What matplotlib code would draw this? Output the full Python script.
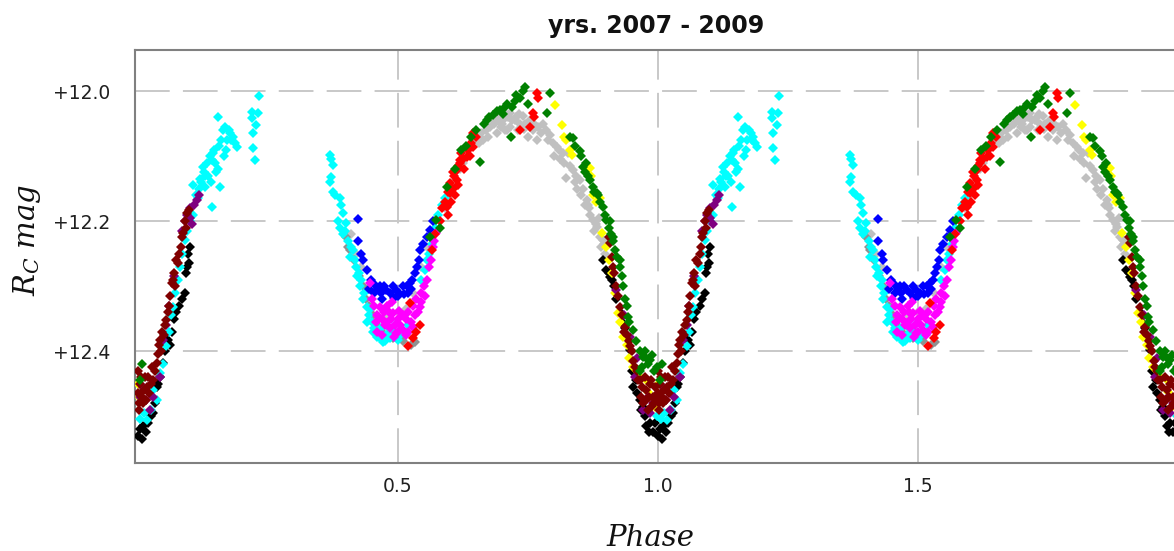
import matplotlib
matplotlib.use('Agg')
import matplotlib.pyplot as plt
import numpy as np

plt.rcParams['lines.scale_dashes'] = False
plt.rcParams['mathtext.fontset'] = 'custom'
plt.rcParams['mathtext.it'] = 'DejaVu Serif:italic'
plt.rcParams['mathtext.rm'] = 'DejaVu Serif'

# ---------------- data (phase in [0,1), Rc magnitude) ----------------
cyan_ph = [0.998, 0.005, 0.017, 0.025, 0.036, 0.042, 0.048, 0.055, 0.060, 0.067, 0.072, 0.081, 0.085, 0.090,
           0.095, 0.100, 0.106, 0.106, 0.112, 0.118, 0.125, 0.129, 0.135, 0.138, 0.142, 0.142, 0.146, 0.150,
           0.154, 0.154, 0.158, 0.160, 0.163, 0.167, 0.170, 0.175, 0.178, 0.183, 0.186, 0.190, 0.130, 0.120,
           0.115, 0.133, 0.148, 0.165, 0.172, 0.219, 0.219, 0.231, 0.228, 0.221, 0.221, 0.225, 0.233,
           0.369, 0.372, 0.375, 0.372, 0.370, 0.375, 0.380, 0.388, 0.390, 0.395, 0.385, 0.388, 0.401, 0.395,
           0.405, 0.410, 0.414, 0.418, 0.420, 0.425, 0.430, 0.428, 0.435, 0.440, 0.445, 0.450, 0.455, 0.459,
           0.465, 0.471, 0.478, 0.485, 0.490, 0.500, 0.495, 0.510, 0.520, 0.545, 0.555, 0.565, 0.572, 0.578,
           0.585, 0.590, 0.440, 0.452, 0.468, 0.398, 0.408, 0.422, 0.432, 0.447, 0.462, 0.475, 0.482, 0.505,
           0.012, 0.030, 0.064, 0.078, 0.140, 0.156, 0.180, 0.552, 0.560, 0.992, 0.122, 0.127, 0.144]
cyan_mag = [12.500, 12.505, 12.506, 12.490, 12.475, 12.434, 12.420, 12.393, 12.370, 12.332, 12.310, 12.270, 12.250, 12.229,
            12.215, 12.200, 12.190, 12.145, 12.160, 12.150, 12.117, 12.148, 12.130, 12.100, 12.106, 12.178, 12.090, 12.125,
            12.040, 12.120, 12.148, 12.075, 12.060, 12.055, 12.090, 12.060, 12.065, 12.070, 12.080, 12.086, 12.130, 12.135,
            12.165, 12.110, 12.110, 12.100, 12.075, 12.032, 12.042, 12.034, 12.052, 12.065, 12.088, 12.106, 12.008,
            12.098, 12.105, 12.114, 12.132, 12.140, 12.155, 12.160, 12.165, 12.175, 12.188, 12.200, 12.210, 12.203, 12.220,
            12.230, 12.240, 12.245, 12.260, 12.270, 12.280, 12.290, 12.300, 12.310, 12.332, 12.345, 12.355, 12.365, 12.378,
            12.380, 12.386, 12.375, 12.380, 12.370, 12.383, 12.360, 12.370, 12.360, 12.290, 12.260, 12.235, 12.210, 12.190,
            12.175, 12.165, 12.355, 12.370, 12.365, 12.215, 12.255, 12.285, 12.320, 12.335, 12.372, 12.385, 12.365, 12.375,
            12.495, 12.460, 12.345, 12.290, 12.140, 12.085, 12.075, 12.275, 12.250, 12.480, 12.140, 12.125, 12.095]

purple_ph = [0.920, 0.935, 0.946, 0.960, 0.971, 0.980, 0.990, 0.005, 0.010, 0.023, 0.030, 0.042, 0.048, 0.055,
             0.085, 0.090, 0.094, 0.100, 0.108, 0.113, 0.118, 0.100, 0.105, 0.070, 0.060, 0.955, 0.985, 0.015]
purple_mag = [12.306, 12.345, 12.378, 12.410, 12.490, 12.470, 12.480, 12.470, 12.455, 12.490, 12.470, 12.440, 12.383, 12.360,
              12.215, 12.200, 12.190, 12.180, 12.175, 12.168, 12.160, 12.195, 12.205, 12.285, 12.330, 12.440, 12.495, 12.475]

maroon_ph = [0.905, 0.908, 0.913, 0.916, 0.920, 0.923, 0.927, 0.930, 0.937, 0.940, 0.946, 0.950, 0.956, 0.960,
             0.965, 0.970, 0.975, 0.978, 0.982, 0.985, 0.990, 0.993, 0.995, 0.000, 0.004, 0.008, 0.012, 0.017,
             0.020, 0.025, 0.029, 0.033, 0.036, 0.040, 0.042, 0.046, 0.052, 0.055, 0.058, 0.062, 0.065, 0.067,
             0.070, 0.074, 0.077, 0.080, 0.084, 0.087, 0.090, 0.094, 0.098, 0.000, 0.003, 0.010, 0.968, 0.987,
             0.015, 0.006, 0.044, 0.972, 0.980, 0.988, 0.997, 0.002, 0.014, 0.022, 0.038, 0.050, 0.060, 0.072,
             0.082, 0.092, 0.935, 0.944, 0.953, 0.911, 0.962, 0.977, 0.027]
maroon_mag = [12.225, 12.234, 12.270, 12.280, 12.300, 12.315, 12.332, 12.345, 12.363, 12.375, 12.393, 12.400, 12.424, 12.430,
              12.445, 12.455, 12.440, 12.460, 12.470, 12.450, 12.470, 12.480, 12.455, 12.465, 12.450, 12.470, 12.460, 12.455,
              12.440, 12.450, 12.445, 12.430, 12.418, 12.390, 12.383, 12.370, 12.360, 12.352, 12.340, 12.316, 12.295, 12.290,
              12.280, 12.260, 12.265, 12.250, 12.224, 12.219, 12.200, 12.188, 12.183, 12.430, 12.490, 12.480, 12.470, 12.445,
              12.475, 12.440, 12.400, 12.480, 12.490, 12.485, 12.475, 12.480, 12.440, 12.465, 12.405, 12.375, 12.330, 12.300,
              12.240, 12.210, 12.370, 12.385, 12.415, 12.255, 12.445, 12.475, 12.425]

black_ph = [0.894, 0.900, 0.905, 0.908, 0.915, 0.920, 0.927, 0.933, 0.940, 0.946, 0.950, 0.952, 0.960, 0.965,
            0.971, 0.975, 0.978, 0.985, 0.990, 0.995, 0.004, 0.000, 0.010, 0.015, 0.020, 0.029, 0.032, 0.036,
            0.042, 0.048, 0.053, 0.058, 0.065, 0.074, 0.080, 0.085, 0.090, 0.092, 0.094, 0.096, 0.100, 0.062,
            0.070, 0.025, 0.912, 0.937, 0.957, 0.968, 0.982, 0.008, 0.039, 0.098]
black_mag = [12.260, 12.275, 12.280, 12.286, 12.300, 12.320, 12.340, 12.357, 12.380, 12.398, 12.430, 12.455, 12.465, 12.475,
             12.486, 12.500, 12.516, 12.510, 12.525, 12.510, 12.520, 12.530, 12.515, 12.525, 12.510, 12.496, 12.480, 12.455,
             12.440, 12.418, 12.400, 12.383, 12.370, 12.340, 12.330, 12.320, 12.310, 12.280, 12.270, 12.250, 12.240, 12.390,
             12.350, 12.500, 12.290, 12.365, 12.445, 12.490, 12.525, 12.535, 12.450, 12.265]

gray_ph = [0.405, 0.408, 0.415, 0.425, 0.433, 0.438, 0.445, 0.460, 0.470, 0.490, 0.510, 0.525, 0.533, 0.520,
           0.400, 0.452, 0.480]
gray_mag = [12.240, 12.245, 12.260, 12.285, 12.300, 12.320, 12.330, 12.360, 12.370, 12.380, 12.385, 12.390, 12.386, 12.370,
            12.225, 12.345, 12.375]

silver_ph = [0.410, 0.420, 0.430, 0.446, 0.450, 0.460, 0.480, 0.500, 0.515, 0.530, 0.545, 0.555, 0.565,
             0.580, 0.590, 0.600, 0.605, 0.613, 0.620, 0.630, 0.635, 0.644, 0.650, 0.660, 0.670, 0.677, 0.685,
             0.690, 0.695, 0.702, 0.708, 0.715, 0.720, 0.728, 0.735, 0.740, 0.745, 0.754, 0.760, 0.767, 0.770,
             0.779, 0.785, 0.792, 0.798, 0.805, 0.810, 0.817, 0.820, 0.824, 0.830, 0.837, 0.843, 0.850, 0.855,
             0.863, 0.868, 0.875, 0.880, 0.882, 0.888, 0.890, 0.894, 0.899, 0.710, 0.730, 0.750, 0.664, 0.690,
             0.716, 0.700, 0.725, 0.640, 0.655, 0.800, 0.845, 0.870, 0.860, 0.625, 0.646, 0.673, 0.682, 0.698,
             0.712, 0.733, 0.743, 0.757, 0.775, 0.788, 0.812, 0.827, 0.840, 0.852, 0.866, 0.878, 0.886, 0.897,
             0.762, 0.705]
silver_mag = [12.220, 12.250, 12.270, 12.352, 12.330, 12.350, 12.345, 12.340, 12.335, 12.310, 12.270, 12.240, 12.220,
              12.200, 12.180, 12.160, 12.140, 12.122, 12.120, 12.100, 12.090, 12.075, 12.070, 12.065, 12.060, 12.055, 12.050,
              12.045, 12.040, 12.045, 12.035, 12.034, 12.045, 12.040, 12.050, 12.038, 12.050, 12.045, 12.060, 12.075, 12.055,
              12.050, 12.060, 12.068, 12.080, 12.086, 12.090, 12.096, 12.110, 12.134, 12.115, 12.122, 12.130, 12.137, 12.150,
              12.168, 12.180, 12.198, 12.205, 12.209, 12.224, 12.240, 12.229, 12.250, 12.060, 12.060, 12.070, 12.075, 12.065,
              12.055, 12.050, 12.045, 12.085, 12.080, 12.100, 12.150, 12.190, 12.175, 12.110, 12.065, 12.070, 12.045, 12.055,
              12.040, 12.035, 12.058, 12.050, 12.065, 12.075, 12.105, 12.095, 12.140, 12.160, 12.175, 12.215, 12.195, 12.235,
              12.050, 12.060]

blue_ph = [0.423, 0.423, 0.430, 0.433, 0.440, 0.448, 0.456, 0.462, 0.468, 0.473, 0.478, 0.485, 0.490, 0.497,
           0.503, 0.510, 0.517, 0.523, 0.528, 0.536, 0.540, 0.542, 0.548, 0.555, 0.562, 0.568, 0.455, 0.470,
           0.500, 0.520, 0.532, 0.445, 0.465, 0.493, 0.512, 0.526]
blue_mag = [12.197, 12.230, 12.250, 12.260, 12.275, 12.290, 12.298, 12.305, 12.310, 12.300, 12.306, 12.310, 12.300, 12.306,
            12.310, 12.300, 12.300, 12.295, 12.290, 12.270, 12.260, 12.245, 12.235, 12.225, 12.214, 12.200, 12.310, 12.320,
            12.315, 12.310, 12.280, 12.305, 12.300, 12.318, 12.312, 12.305]

magenta_ph = [0.446, 0.450, 0.455, 0.460, 0.465, 0.470, 0.475, 0.478, 0.482, 0.487, 0.490, 0.495, 0.497, 0.500,
              0.505, 0.510, 0.515, 0.520, 0.525, 0.529, 0.533, 0.538, 0.542, 0.545, 0.550, 0.555, 0.560, 0.563,
              0.567, 0.570, 0.574, 0.460, 0.470, 0.485, 0.500, 0.510, 0.530, 0.480, 0.520, 0.545, 0.457, 0.492,
              0.503, 0.515, 0.535, 0.552, 0.473, 0.488]
magenta_mag = [12.295, 12.320, 12.330, 12.345, 12.332, 12.350, 12.360, 12.357, 12.340, 12.350, 12.342, 12.360, 12.372, 12.350,
               12.360, 12.368, 12.350, 12.370, 12.355, 12.363, 12.345, 12.340, 12.332, 12.310, 12.300, 12.290, 12.270, 12.260,
               12.240, 12.230, 12.219, 12.370, 12.375, 12.365, 12.370, 12.345, 12.330, 12.330, 12.340, 12.325, 12.355, 12.378,
               12.338, 12.375, 12.320, 12.315, 12.340, 12.325]

red_ph = [0.519, 0.523, 0.542, 0.535, 0.530, 0.565, 0.572, 0.580, 0.585, 0.590, 0.594, 0.597, 0.600, 0.600,
          0.605, 0.608, 0.613, 0.613, 0.616, 0.619, 0.619, 0.625, 0.632, 0.635, 0.640, 0.644, 0.644, 0.650,
          0.610, 0.596, 0.605, 0.628, 0.622, 0.735, 0.754, 0.760, 0.762, 0.767, 0.770, 0.602, 0.615, 0.638]
red_mag = [12.393, 12.326, 12.360, 12.370, 12.380, 12.245, 12.220, 12.200, 12.180, 12.170, 12.178, 12.155, 12.142, 12.157,
           12.150, 12.130, 12.122, 12.137, 12.115, 12.106, 12.111, 12.105, 12.101, 12.090, 12.080, 12.086, 12.065, 12.070,
           12.160, 12.190, 12.125, 12.120, 12.095, 12.060, 12.055, 12.034, 12.040, 12.003, 12.010, 12.170, 12.145, 12.100]

green_ph = [0.562, 0.574, 0.580, 0.594, 0.610, 0.622, 0.630, 0.640, 0.651, 0.658, 0.665, 0.672, 0.683, 0.690,
            0.696, 0.702, 0.710, 0.718, 0.720, 0.728, 0.735, 0.744, 0.750, 0.786, 0.792, 0.830, 0.837, 0.840,
            0.850, 0.853, 0.856, 0.860, 0.865, 0.869, 0.875, 0.878, 0.882, 0.888, 0.894, 0.898, 0.901, 0.905,
            0.910, 0.913, 0.913, 0.918, 0.922, 0.927, 0.927, 0.930, 0.933, 0.937, 0.942, 0.945, 0.952, 0.958,
            0.965, 0.971, 0.975, 0.980, 0.985, 0.988, 0.992, 0.998, 0.004, 0.965, 0.970, 0.007, 0.740, 0.676,
            0.706, 0.725, 0.862, 0.884, 0.907, 0.940, 0.978]
green_mag = [12.224, 12.198, 12.210, 12.147, 12.120, 12.090, 12.085, 12.070, 12.060, 12.109, 12.050, 12.045, 12.037, 12.030,
             12.029, 12.035, 12.020, 12.070, 12.025, 12.006, 12.010, 11.994, 12.020, 12.034, 12.003, 12.070, 12.072, 12.085,
             12.093, 12.100, 12.117, 12.125, 12.130, 12.137, 12.147, 12.155, 12.157, 12.170, 12.178, 12.190, 12.198, 12.210,
             12.220, 12.224, 12.230, 12.245, 12.255, 12.260, 12.270, 12.285, 12.300, 12.320, 12.347, 12.355, 12.368, 12.385,
             12.400, 12.409, 12.400, 12.420, 12.414, 12.406, 12.430, 12.424, 12.445, 12.430, 12.425, 12.420, 12.000, 12.040,
             12.025, 12.015, 12.110, 12.160, 12.200, 12.330, 12.410]

yellow_ph = [0.802, 0.815, 0.820, 0.824, 0.830, 0.834, 0.869, 0.872, 0.875, 0.880, 0.888, 0.892, 0.900, 0.905,
             0.911, 0.918, 0.923, 0.928, 0.933, 0.940, 0.945, 0.952, 0.960, 0.965, 0.978, 0.981, 0.990, 0.994,
             0.000, 0.003]
yellow_mag = [12.022, 12.052, 12.070, 12.075, 12.090, 12.098, 12.118, 12.130, 12.160, 12.170, 12.165, 12.218, 12.240, 12.260,
              12.280, 12.310, 12.342, 12.355, 12.378, 12.390, 12.410, 12.424, 12.430, 12.440, 12.445, 12.463, 12.475, 12.486,
              12.450, 12.470]

x_ticks = [0.5, 1.0, 1.5]
x_ticklabels = ['0.5', '1.0', '1.5']
y_ticks = [12.0, 12.2, 12.4]
y_ticklabels = ['+12.0', '+12.2', '+12.4']

series = [
    (silver_ph, silver_mag, '#c0c0c0'),
    (gray_ph, gray_mag, '#909090'),
    (black_ph, black_mag, '#000000'),
    (cyan_ph, cyan_mag, '#00ffff'),
    (blue_ph, blue_mag, '#0000ff'),
    (magenta_ph, magenta_mag, '#ff00ff'),
    (yellow_ph, yellow_mag, '#ffff00'),
    (purple_ph, purple_mag, '#800080'),
    (maroon_ph, maroon_mag, '#800000'),
    (red_ph, red_mag, '#ff0000'),
    (green_ph, green_mag, '#008000'),
]

# ---------------- figure ----------------
W, H = 1174, 551
fig = plt.figure(figsize=(W / 100, H / 100), dpi=100)
ax = fig.add_axes([135 / W, (H - 463) / H, (1183 - 135) / W, (463 - 50) / H])

for ph, mag, col in series:
    ph = np.asarray(ph)
    mag = np.asarray(mag)
    ax.plot(np.concatenate([ph, ph + 1]), np.concatenate([mag, mag]), ls='none',
            marker='D', ms=4.6, mew=0, color=col, zorder=3)

ax.set_xlim(-0.0055, 2.0096)
ax.set_ylim(12.5723, 11.9369)

ax.set_xticks(x_ticks)
ax.set_xticklabels(x_ticklabels)
ax.set_yticks(y_ticks)
ax.set_yticklabels(y_ticklabels)
ax.tick_params(axis='both', length=0, labelsize=13.5, colors='#202020')
ax.tick_params(axis='x', pad=10)
ax.tick_params(axis='y', pad=18)

ax.grid(True, color='#c8c8c8', lw=1.4, ls=(0, (25, 9.5)), zorder=0)
ax.set_axisbelow(True)
for s in ax.spines.values():
    s.set_color('#808080')
    s.set_linewidth(1.5)

fig.text(656 / W, 1 - 33 / H, 'yrs. 2007 - 2009', ha='center', va='baseline',
         fontsize=17, fontweight='bold', color='#111111')
fig.text(650 / W, 1 - 546 / H, 'Phase', ha='center', va='baseline',
         fontsize=21, family='DejaVu Serif', style='italic', color='#111111')
fig.text(27 / W, 1 - 240 / H, r'$R_C\ mag$', ha='center', va='center',
         rotation=90, fontsize=21, color='#111111')

fig.savefig('out.png', dpi=100)
